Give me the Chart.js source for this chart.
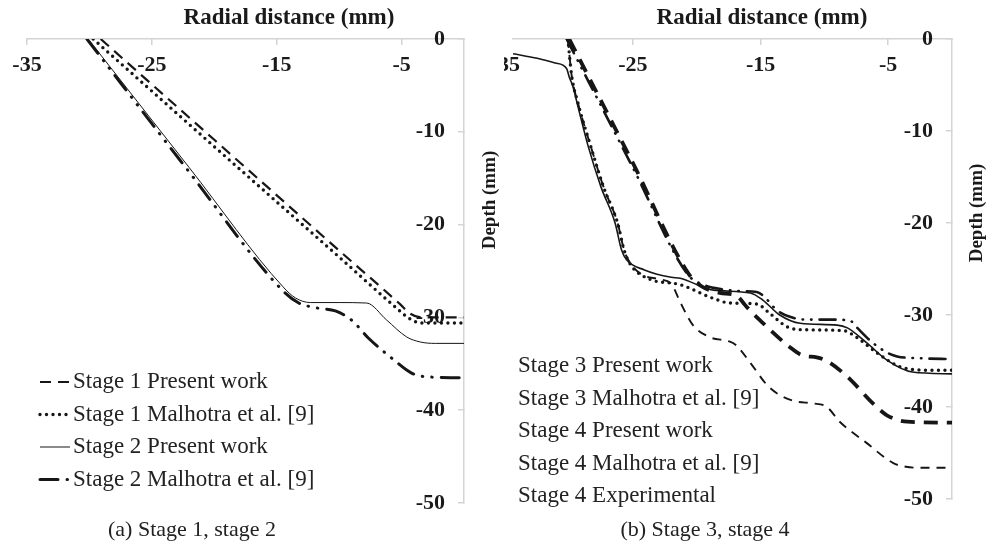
<!DOCTYPE html>
<html><head><meta charset="utf-8">
<script src="https://cdn.jsdelivr.net/npm/chart.js"></script>
<style>
html,body{margin:0;padding:0;background:#fff;width:998px;height:549px;overflow:hidden;}
#ca{position:absolute;left:0;top:0;}
#cb{position:absolute;left:504px;top:0;}
.cap{position:absolute;top:516px;font:22px "Liberation Serif",serif;color:#222;white-space:nowrap;transform:translateX(-50%);line-height:26px;}
</style></head><body>
<canvas id="ca" width="500" height="549"></canvas>
<canvas id="cb" width="494" height="549"></canvas>
<div class="cap" style="left:192px">(a) Stage 1, stage 2</div>
<div class="cap" style="left:705px">(b) Stage 3, stage 4</div>
<script>
// ---- tick labels ----
const xTickValues = [-35, -25, -15, -5];
const yTickValues = [0, -10, -20, -30, -40, -50];

// ---- panel (a) ----
const s1PresentX = [-29.1, -20, -10, -5.1, -4.3, -3.4, 0];
const s1PresentY = [0, -10.86, -22.8, -28.6, -29.6, -30.0, -30.0];
const s1MalhotraX = [-29.7, -20, -10, -5.4, -4.4, -3.4, 0];
const s1MalhotraY = [0, -11.6, -23.5, -29.0, -30.1, -30.6, -30.6];
const s2PresentX = [-30.1, -22, -14.5, -13.5, -12.3, -10, -7.8, -6.2, -4.6, -3.5, -2.3, 0];
const s2PresentY = [0, -13.87, -26.7, -27.9, -28.4, -28.4, -28.45, -30.28, -32.1, -32.65, -32.8, -32.8];
const s2MalhotraX = [-30.2, -22.2, -14.6, -13.3, -11.7, -10.3, -9.0, -7.6, -5.6, -4.2, -3.0, 0];
const s2MalhotraY = [0, -14.0, -27.0, -28.4, -29.0, -29.3, -30.3, -32.3, -34.6, -36.0, -36.4, -36.5];

// ---- panel (b) ----
const s3PresentX = [-30.0, -25, -20.6, -19.6, -18.2, -16.9, -16.1, -15.1, -12.7, -11.7, -10.6, -9.8, -8.2, -6.2, -5.1, -3.5, 0];
const s3PresentY = [0, -13.5, -25.6, -26.9, -27.6, -27.9, -29.1, -30.5, -33.5, -34.4, -34.6, -35.0, -36.7, -39.6, -40.9, -41.6, -41.7];
const s3MalhotraX = [-30.2, -25, -20.7, -19.5, -18.0, -16.5, -15.3, -14.8, -13.7, -12.7, -11.4, -9.6, -8.0, -7.5, -6.4, -5.2, -4.3, -2.5, 0];
const s3MalhotraY = [0, -14.0, -25.6, -26.7, -27.2, -27.4, -27.5, -27.9, -29.5, -30.2, -30.5, -30.5, -30.6, -31.3, -32.8, -34.0, -34.5, -34.7, -34.8];
const s4PresentX = [-30.1, -29.8, -29.3, -28.3, -27.3, -26.2, -25.7, -25.2, -24.3, -23.0, -22.0, -21.3, -20.3, -19.0, -17.4, -16.9, -15.8, -14.5, -13.5, -12.2, -10.9, -9.8, -8.8, -6.7, -4.6, -3.6, -2.5, 0];
const s4PresentY = [0, -4.0, -7.0, -11.7, -16.1, -20.0, -22.9, -24.4, -25.6, -26.1, -26.6, -28.6, -31.1, -32.4, -32.9, -33.3, -35.2, -37.6, -38.7, -39.4, -39.6, -40.0, -41.6, -43.9, -46.1, -46.5, -46.6, -46.6];
const s4MalhotraX = [-30.1, -29.8, -29.3, -28.3, -27.3, -26.2, -25.7, -25.2, -23.7, -21.3, -18.7, -17.4, -15.3, -14.3, -12.9, -11.7, -8.5, -7.5, -5.9, -4.1, -1.7, 0];
const s4MalhotraY = [0, -4.0, -7.0, -11.7, -16.1, -20.0, -22.9, -24.5, -26.1, -26.7, -28.2, -28.7, -28.8, -29.8, -31.3, -31.6, -31.7, -32.4, -34.1, -35.6, -36.0, -36.0];
const s4ExpX = [-34.4, -32.5, -31.1, -30.2, -30.0, -29.7, -29.3, -28.5, -27.5, -26.4, -25.9, -25.5, -24.1, -22.0, -21.3, -18.7, -15.8, -14.8, -13.5, -11.9, -9.0, -8.2, -6.7, -5.1, -3.1, 0];
const s4ExpY = [-1.6, -2.1, -2.6, -3.2, -4.1, -5.2, -7.4, -11.7, -16.1, -20.0, -22.9, -24.0, -25.1, -25.9, -26.0, -27.3, -27.6, -28.4, -30.0, -30.9, -31.1, -31.4, -33.0, -34.9, -36.2, -36.4];

const zip = (xs, ys) => xs.map((x, i) => ({x, y: ys[i]}));
const INK = '#161616';
const AXIS = '#d4d4d4';
const SERIF = '"Liberation Serif", "Times New Roman", serif';

const sideLegend = {
  id: 'sideLegend',
  afterDraw(chart, args, o) {
    const ctx = chart.ctx;
    ctx.save();
    chart.data.datasets.forEach((ds, i) => {
      const y = o.y + i * o.dy;
      ctx.beginPath();
      ctx.setLineDash(ds.borderDash || []);
      ctx.lineWidth = ds.borderWidth;
      ctx.lineCap = ds.borderCapStyle || 'butt';
      ctx.strokeStyle = ds.borderColor;
      ctx.moveTo(o.x, y); ctx.lineTo(o.x + o.len, y); ctx.stroke();
      ctx.setLineDash([]);
      ctx.fillStyle = o.color; ctx.font = o.font;
      ctx.textBaseline = 'middle'; ctx.textAlign = 'left';
      ctx.fillText(ds.label, o.textX, y);
    });
    ctx.restore();
  }
};
const axisTitles = {
  id: 'axisTitles',
  afterDraw(chart, args, o) {
    const ctx = chart.ctx;
    ctx.save();
    ctx.fillStyle = o.color;
    ctx.textAlign = 'center'; ctx.textBaseline = 'middle';
    ctx.font = o.xFont;
    ctx.fillText(o.xText, o.xX, o.xY);
    ctx.font = o.yFont;
    ctx.translate(o.yX, o.yY); ctx.rotate(-Math.PI / 2);
    ctx.fillText(o.yText, 0, 0);
    ctx.restore();
  }
};

function makeChart(id, datasets, p) {
  return new Chart(document.getElementById(id), {
    type: 'line',
    data: {datasets},
    options: {
      responsive: false, animation: false, devicePixelRatio: 1,
      layout: {padding: {left: p.padLeft, right: 0, top: 0, bottom: p.padBottom}},
      elements: {point: {radius: 0, hoverRadius: 0}, line: {cubicInterpolationMode: 'monotone', fill: false}},
      plugins: {
        legend: {display: false}, tooltip: {enabled: false},
        sideLegend: {x: p.legX, len: p.legLen, textX: p.legTextX, y: p.legY, dy: p.legDy, font: '23px ' + SERIF, color: '#222'},
        axisTitles: {xText: 'Radial distance (mm)', xX: p.xtX, xY: 18, yText: 'Depth (mm)', yX: p.ytX, yY: p.ytY,
                     xFont: 'bold 23px ' + SERIF, yFont: 'bold 19px ' + SERIF, color: '#1a1a1a'}
      },
      scales: {
        x: {
          type: 'linear', position: 'top', min: p.xmin, max: 0,
          afterBuildTicks: s => { s.ticks = xTickValues.map(v => ({value: v})); },
          afterFit: s => { s.height = 39; s.paddingLeft = 0; s.paddingRight = 0; },
          grid: {drawOnChartArea: false, drawTicks: true, tickLength: -6, lineWidth: 1.5,
                 color: c => (c.tick && c.tick.value < p.xmin) ? 'rgba(0,0,0,0)' : AXIS},
          border: {color: AXIS, width: 1.5},
          ticks: {mirror: true, padding: 13, autoSkip: false, maxRotation: 0, color: '#1a1a1a',
                  font: {family: SERIF, size: 22, weight: 'bold'}, callback: v => String(v)}
        },
        y: {
          type: 'linear', position: 'right', min: -50, max: 0,
          afterBuildTicks: s => { s.ticks = yTickValues.map(v => ({value: v})); },
          afterFit: s => { s.width = p.yW; s.paddingTop = 0; s.paddingBottom = 0; },
          grid: {drawOnChartArea: false, drawTicks: true, tickLength: -6, lineWidth: 1.5, color: AXIS},
          border: {color: AXIS, width: 1.5},
          ticks: {mirror: true, padding: -19, autoSkip: false, color: '#1a1a1a',
                  font: {family: SERIF, size: 22, weight: 'bold'}, callback: v => String(v)}
        }
      }
    },
    plugins: [sideLegend, axisTitles]
  });
}

makeChart('ca', [
  {label: 'Stage 1 Present work', data: zip(s1PresentX, s1PresentY), borderColor: INK, borderWidth: 2.2, borderDash: [11, 7]},
  {label: 'Stage 1 Malhotra et al. [9]', data: zip(s1MalhotraX, s1MalhotraY), borderColor: INK, borderWidth: 3.4, borderDash: [0, 6.5], borderCapStyle: 'round'},
  {label: 'Stage 2 Present work', data: zip(s2PresentX, s2PresentY), borderColor: INK, borderWidth: 1},
  {label: 'Stage 2 Malhotra et al. [9]', data: zip(s2MalhotraX, s2MalhotraY), borderColor: INK, borderWidth: 3, borderDash: [18, 9, 0.5, 9, 0.5, 9], borderCapStyle: 'round'}
], {padLeft: 27, padBottom: 46, yW: 36, xmin: -35, legX: 40, legLen: 30, legTextX: 73, legY: 382, legDy: 32.5, xtX: 289, ytX: 490, ytY: 200});

makeChart('cb', [
  {label: 'Stage 3 Present work', data: zip(s3PresentX, s3PresentY), borderColor: INK, borderWidth: 3.8, borderDash: [14, 9]},
  {label: 'Stage 3 Malhotra et al. [9]', data: zip(s3MalhotraX, s3MalhotraY), borderColor: INK, borderWidth: 2.6, borderDash: [16, 8, 0.5, 8, 0.5, 8], borderCapStyle: 'round'},
  {label: 'Stage 4 Present work', data: zip(s4PresentX, s4PresentY), borderColor: INK, borderWidth: 1.9, borderDash: [9, 7]},
  {label: 'Stage 4 Malhotra et al. [9]', data: zip(s4MalhotraX, s4MalhotraY), borderColor: INK, borderWidth: 3.4, borderDash: [0, 6.5], borderCapStyle: 'round'},
  {label: 'Stage 4 Experimental', data: zip(s4ExpX, s4ExpY), borderColor: INK, borderWidth: 1.6}
], {padLeft: 9, padBottom: 50, yW: 46, xmin: -34.4, legX: -36, legLen: 30, legTextX: 14, legY: 366, legDy: 32.5, xtX: 258, ytX: 473, ytY: 213});
</script>
</body></html>
